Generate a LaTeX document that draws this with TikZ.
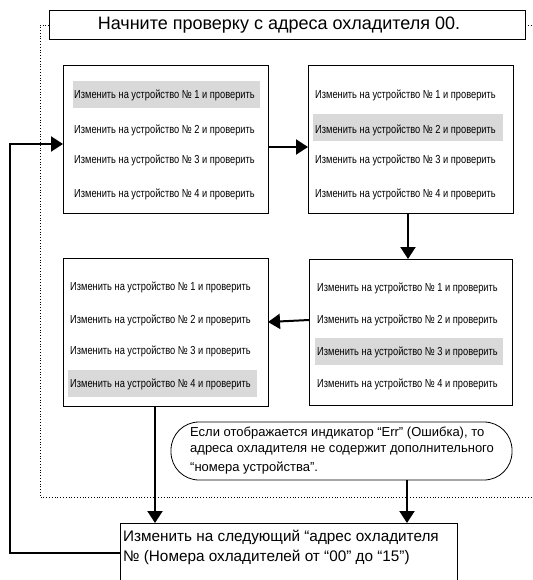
\documentclass[tikz,border=0pt]{standalone}
\usepackage{fontspec}
\setmainfont{Liberation Sans}
\newfontfamily\narrowfont[FakeStretch=0.8]{Liberation Sans}
\usetikzlibrary{arrows.meta}
\tikzset{
  box/.style={draw=black, line width=1pt, fill=white},
  rowtext/.style={anchor=west, inner sep=0pt, font=\narrowfont\fontsize{11.6}{14}\selectfont},
  hl/.style={fill=black!15, draw=none},
  flow/.style={line width=2pt, -{Triangle[length=12pt,width=15pt]}},
  dots/.style={dotted, line width=0.8pt},
  bigtext/.style={font=\fontsize{18}{21}\selectfont, inner sep=0pt},
  midtext/.style={font=\fontsize{15.3}{18}\selectfont, inner sep=0pt, anchor=west},
  notetext/.style={font=\fontsize{13}{15}\selectfont, inner sep=0pt, anchor=west}
}
\begin{document}
\begin{tikzpicture}[x=1pt,y=-1pt]
\useasboundingbox (0,0) rectangle (532,580);
\clip (0,0) rectangle (532,580);
% dotted frame
\draw[dots] (49,25) -- (40,25) -- (40,497) -- (532,497);
\draw[dots] (525,25) -- (532,25);
% top title box
\node[box, line width=1.2pt, minimum width=476pt, minimum height=29pt, inner sep=0pt, anchor=north west] (title) at (49,10) {};
\node[bigtext] (titletext) at (279,25) {Начните проверку с адреса охладителя 00.};
% box 1
\draw[box] (63,66) rectangle (268,213);
\coordinate (b1w) at (63,144);
\coordinate (b1e) at (268,147);
\fill[hl] (73,81) rectangle (260,108);
\node[rowtext] (r11) at (74,95) {Изменить на устройство № 1 и проверить};
\node[rowtext] (r12) at (74,130) {Изменить на устройство № 2 и проверить};
\node[rowtext] (r13) at (74,160) {Изменить на устройство № 3 и проверить};
\node[rowtext] (r14) at (74,194) {Изменить на устройство № 4 и проверить};
% box 2
\draw[box] (308,66) rectangle (513,213);
\coordinate (b2w) at (308,147);
\coordinate (b2s) at (408,213);
\fill[hl] (313,114) rectangle (503,141);
\node[rowtext] (r21) at (315,95) {Изменить на устройство № 1 и проверить};
\node[rowtext] (r22) at (315,130) {Изменить на устройство № 2 и проверить};
\node[rowtext] (r23) at (315,160) {Изменить на устройство № 3 и проверить};
\node[rowtext] (r24) at (315,194) {Изменить на устройство № 4 и проверить};
% box 3
\draw[box] (309,259) rectangle (512,405);
\coordinate (b3n) at (408,259);
\coordinate (b3w) at (309,320);
\fill[hl] (315,338) rectangle (503,365);
\node[rowtext] (r31) at (317,288) {Изменить на устройство № 1 и проверить};
\node[rowtext] (r32) at (317,320) {Изменить на устройство № 2 и проверить};
\node[rowtext] (r33) at (317,352) {Изменить на устройство № 3 и проверить};
\node[rowtext] (r34) at (317,384) {Изменить на устройство № 4 и проверить};
% box 4
\draw[box] (63,258) rectangle (268,406);
\coordinate (b4e) at (268,322);
\coordinate (b4s) at (155,406);
\fill[hl] (68,370) rectangle (257,397);
\node[rowtext] (r41) at (70,287) {Изменить на устройство № 1 и проверить};
\node[rowtext] (r42) at (70,320) {Изменить на устройство № 2 и проверить};
\node[rowtext] (r43) at (70,351) {Изменить на устройство № 3 и проверить};
\node[rowtext] (r44) at (70,384) {Изменить на устройство № 4 и проверить};
% note
\draw[line width=0.8pt, rounded corners=28pt, fill=white] (171,422) rectangle (512,480);
\coordinate (notes) at (407,480);
\node[notetext] (n1) at (190,433) {Если отображается индикатор “Err” (Ошибка), то};
\node[notetext] (n2) at (190,450.5) {адреса охладителя не содержит дополнительного};
\node[notetext] (n3) at (190,468) {“номера устройства”.};
% bottom box (open at bottom)
\draw[line width=1pt] (120,590) -- (120,523) -- (457,523) -- (457,590);
\coordinate (bbn1) at (155,523);
\coordinate (bbn2) at (407,523);
\coordinate (bbw) at (120,553);
\node[midtext] (bb1) at (123,537) {Изменить на следующий “адрес охладителя};
\node[midtext] (bb2) at (123,557) {№ (Номера охладителей от “00” до “15”)};
% connectors
\draw[flow] (b1e) -- (b2w);
\draw[flow] (b2s) -- (b3n);
\draw[flow] (b3w) -- (b4e);
\draw[flow] (b4s) -- (bbn1);
\draw[flow] (notes) -- (bbn2);
\draw[flow] (bbw) -- (10,553) -- (10,144) -- (b1w);
\end{tikzpicture}
\end{document}
